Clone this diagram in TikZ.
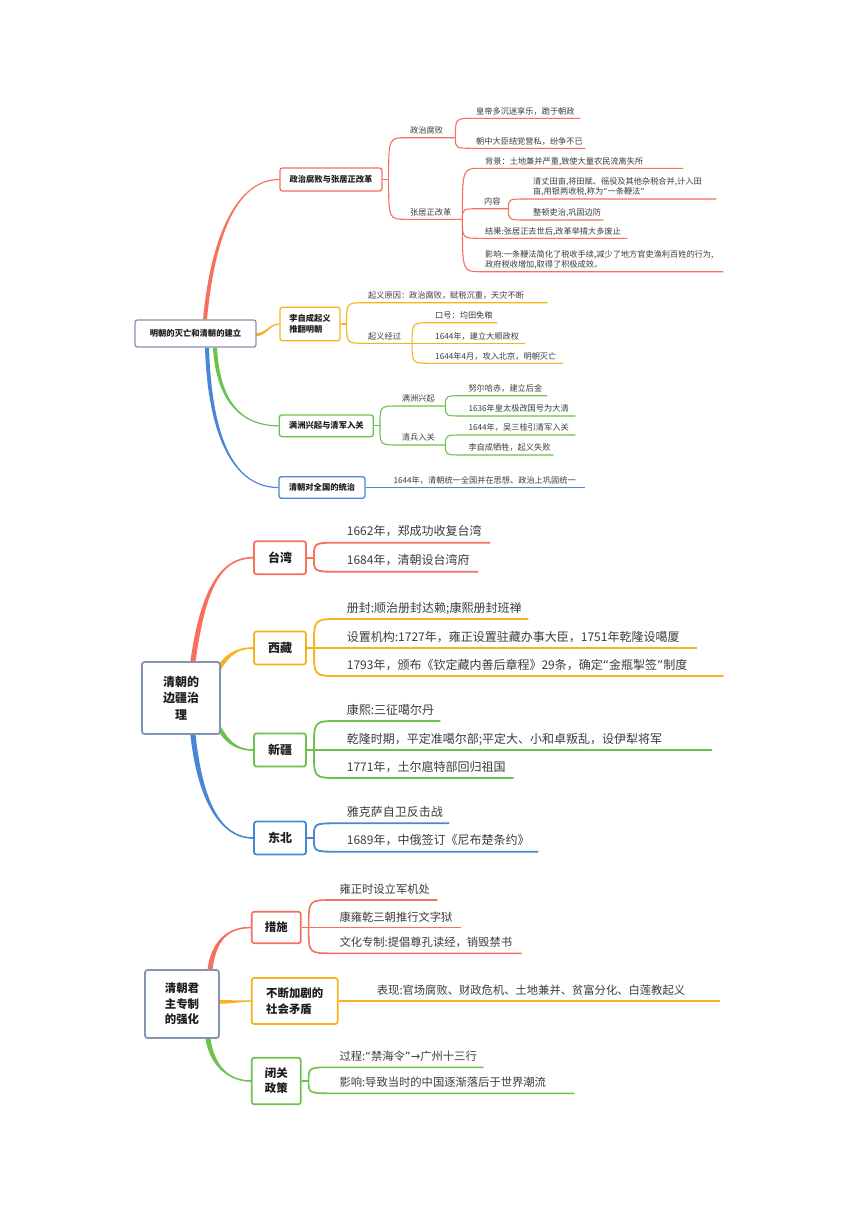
\documentclass[tikz,border=0pt]{standalone}
\usepackage{fontspec}
\setmainfont{Noto Sans CJK SC}
\newfontfamily\qf{DejaVu Sans}
\newcommand\qL{{\qf “}}
\newcommand\qR{{\qf ”}}
\newcommand\qA{{\qf →}}
\usetikzlibrary{calc}
\definecolor{cR}{HTML}{F7705E}
\definecolor{cO}{HTML}{F9B11C}
\definecolor{cG}{HTML}{6DC24B}
\definecolor{cB}{HTML}{4A86D6}
\definecolor{cRoot}{HTML}{8294AE}
\definecolor{txt}{HTML}{3C3C3C}
\definecolor{btxt}{HTML}{1E1E1E}
\pgfdeclarelayer{bgzero}
\pgfdeclarelayer{bgone}
\pgfsetlayers{bgzero,bgone,main}
% tapered connector: color, start, c1, c2, end, start offset, end offset
\newcommand\taper[7]{\fill[#1] ($(#2)+(#6)$) .. controls ($(#3)+(#6)$) and ($(#4)+(#7)$) .. ($(#5)+(#7)$) -- ($(#5)-(#7)$) .. controls ($(#4)-(#7)$) and ($(#3)-(#6)$) .. ($(#2)-(#6)$) -- cycle;}
% bracket branch: style, split point, leaf node, radius
\newcommand\br[4]{\draw[#1] let \p1=(#2), \p2=(#3.south west) in (\p1) .. controls (\x1,\y2) .. (\x1+#4,\y2) -- (#3.south east);}
\begin{document}
\begin{tikzpicture}[x=1pt,y=-1pt,
  bx/.style={draw=#1, fill=white, rounded corners=2.5pt, inner sep=0pt, text=btxt, align=center},
  f1b/.style={font=\fontsize{8.3}{11}\selectfont\bfseries, line width=1.3pt},
  f2b/.style={font=\fontsize{12}{16.7}\selectfont\bfseries, line width=1.8pt},
  f3b/.style={font=\fontsize{11.4}{15.3}\selectfont\bfseries, line width=1.7pt},
  lf/.style={anchor=south west, inner xsep=0pt, align=left, text=txt, execute at begin node=\strut, execute at end node=\strut},
  l1/.style={lf, inner ysep=0.8pt, font=\fontsize{8.2}{10.5}\selectfont},
  l2/.style={lf, inner ysep=2.3pt, font=\fontsize{12}{15}\selectfont},
  l3/.style={lf, inner ysep=2pt, font=\fontsize{11.3}{14}\selectfont},
  lw1/.style={line width=1.1pt},
  lw2/.style={line width=1.8pt},
  lw3/.style={line width=1.6pt}]
\useasboundingbox (0,0) rectangle (860,1216);
\begin{pgfonlayer}{bgzero}
\fill[white] (0,0) rectangle (860,1216);
\end{pgfonlayer}

%%%%%%%%%%%%%%%% Section 1
\node[bx=cRoot, f1b, minimum width=121pt, minimum height=27pt] (r1) at (195.5,333.5) {明朝的灭亡和清朝的建立};
\node[bx=cR, f1b, minimum width=102pt, minimum height=23pt] (b11) at (331,179.5) {政治腐败与张居正改革};
\node[bx=cO, f1b, minimum width=60pt, minimum height=33.4pt, align=left] (b12) at (310,324) {李自成起义\\推翻明朝};
\node[bx=cG, f1b, minimum width=94pt, minimum height=21.7pt] (b13) at (326.3,425.8) {满洲兴起与清军入关};
\node[bx=cB, f1b, minimum width=86pt, minimum height=21.6pt] (b14) at (322,487.5) {清朝对全国的统治};

\coordinate (t11) at ($(r1.north)+(9.5,0)$);
\coordinate (t12) at ($(r1.east)+(-3,1.5)$);
\coordinate (t13) at ($(r1.south)+(19.5,0)$);
\coordinate (t14) at ($(r1.south)+(11.5,0)$);
\begin{pgfonlayer}{bgone}
\taper{cR}{t11}{213,235}{237,179.5}{b11.west}{2,0}{0,0.6}
\taper{cO}{t12}{268,335}{268,324}{b12.west}{0,1.6}{0,0.6}
\taper{cG}{t13}{218,400}{240,425.8}{b13.west}{2,0}{0,-0.6}
\taper{cB}{t14}{210,440}{235,487.5}{b14.west}{2,0}{0,-0.6}
\end{pgfonlayer}

% branch 1
\coordinate (s11) at ($(b11.east)+(6,0)$);
\node[l1, text width=45pt] (L1) at (410,137.7) {政治腐败};
\node[l1, text width=52pt] (L2) at (410,219.3) {张居正改革};
\node[l1, text width=104pt] (L11) at (476,118.3) {皇帝多沉迷享乐，跪于朝政};
\node[l1, text width=109pt] (L12) at (476,148.3) {朝中大臣结党营私，纷争不已};
\node[l1, text width=198pt] (L21) at (485,168.3) {背景：土地兼并严重,致使大量农民流离失所};
\node[l1, text width=24pt] (L22) at (484,208.7) {内容};
\node[l1, text width=142pt] (L23) at (485,238.3) {结果:张居正去世后,改革举措大多废止};
\node[l1, text width=238pt] (L24) at (485,271.7) {影响:一条鞭法简化了税收手续,减少了地方官吏渔利百姓的行为,\\政府税收增加,取得了积极成效。};
\node[l1, text width=183pt] (L221) at (533,199) {清丈田亩,将田赋、徭役及其他杂税合并,计入田\\亩,用银两收税,称为\qL 一条鞭法\qR};
\node[l1, text width=70pt] (L222) at (533,220) {整顿吏治,巩固边防};
\draw[cR,lw1] (b11.east) -- (s11);
\br{cR,lw1}{s11}{L1}{18pt}
\br{cR,lw1}{s11}{L2}{18pt}
\br{cR,lw1}{L1.south east}{L11}{18pt}
\br{cR,lw1}{L1.south east}{L12}{18pt}
\br{cR,lw1}{L2.south east}{L21}{18pt}
\br{cR,lw1}{L2.south east}{L22}{18pt}
\br{cR,lw1}{L2.south east}{L23}{18pt}
\br{cR,lw1}{L2.south east}{L24}{18pt}
\br{cR,lw1}{L22.south east}{L221}{18pt}
\br{cR,lw1}{L22.south east}{L222}{18pt}

% branch 2
\coordinate (s12) at ($(b12.east)+(6,0)$);
\node[l1, text width=179pt] (M1) at (368,302.7) {起义原因：政治腐败，赋税沉重，天灾不断};
\node[l1, text width=43.7pt] (M2) at (368,343.3) {起义经过};
\node[l1, text width=62pt] (M21) at (435,322.7) {口号：均田免粮};
\node[l1, text width=90pt] (M22) at (435,343.3) {1644年，建立大顺政权};
\node[l1, text width=128pt] (M23) at (435,363.3) {1644年4月，攻入北京，明朝灭亡};
\draw[cO,lw1] (b12.east) -- (s12);
\br{cO,lw1}{s12}{M1}{18pt}
\br{cO,lw1}{s12}{M2}{18pt}
\br{cO,lw1}{M2.south east}{M21}{18pt}
\br{cO,lw1}{M2.south east}{M22}{18pt}
\br{cO,lw1}{M2.south east}{M23}{18pt}

% branch 3
\coordinate (s13) at ($(b13.east)+(6,0)$);
\node[l1, text width=43.3pt] (N1) at (401.7,406) {满洲兴起};
\node[l1, text width=43.3pt] (N2) at (401.7,445) {清兵入关};
\node[l1, text width=78.4pt] (N11) at (468.3,395.7) {努尔哈赤，建立后金};
\node[l1, text width=106.7pt] (N12) at (468.3,416) {1636年皇太极改国号为大清};
\node[l1, text width=106.7pt] (N21) at (468.3,435) {1644年，吴三桂引清军入关};
\node[l1, text width=85pt] (N22) at (468.3,455) {李自成牺牲，起义失败};
\draw[cG,lw1] (b13.east) -- (s13);
\br{cG,lw1}{s13}{N1}{18pt}
\br{cG,lw1}{s13}{N2}{18pt}
\br{cG,lw1}{N1.south east}{N11}{18pt}
\br{cG,lw1}{N1.south east}{N12}{18pt}
\br{cG,lw1}{N2.south east}{N21}{18pt}
\br{cG,lw1}{N2.south east}{N22}{18pt}

% branch 4
\node[l1, text width=191.7pt] (O1) at (393.3,487.5) {1644年，清朝统一全国并在思想、政治上巩固统一};
\br{cB,lw1}{b14.east}{O1}{18pt}

%%%%%%%%%%%%%%%% Section 2
\node[bx=cRoot, f2b, minimum width=78pt, minimum height=72pt] (r2) at (181,698) {清朝的\\边疆治\\理};
\node[bx=cR, f2b, minimum width=52pt, minimum height=33pt] (c1) at (280,557.7) {台湾};
\node[bx=cO, f2b, minimum width=52pt, minimum height=33pt] (c2) at (280,648) {西藏};
\node[bx=cG, f2b, minimum width=52pt, minimum height=33pt] (c3) at (280,750) {新疆};
\node[bx=cB, f2b, minimum width=52pt, minimum height=33pt] (c4) at (280,838) {东北};

\coordinate (t21) at ($(r2.north)+(12,0)$);
\coordinate (t22) at ($(r2.north east)+(-6,14)$);
\coordinate (t23) at ($(r2.south east)+(-6,-14)$);
\coordinate (t24) at ($(r2.south)+(12,0)$);
\begin{pgfonlayer}{bgone}
\taper{cR}{t21}{203,590}{220,557.7}{c1.west}{2.6,0}{0,0.8}
\taper{cO}{t22}{226,655}{236,648}{c2.west}{2.2,1.2}{0,0.8}
\taper{cG}{t23}{226,742}{236,750}{c3.west}{2.2,-1.2}{0,-0.8}
\taper{cB}{t24}{200,800}{220,838}{c4.west}{2.6,0}{0,-0.8}
\end{pgfonlayer}

\coordinate (s21) at ($(c1.east)+(7,0)$);
\coordinate (s22) at ($(c2.east)+(7,0)$);
\coordinate (s23) at ($(c3.east)+(7,0)$);
\coordinate (s24) at ($(c4.east)+(7,0)$);
\node[l2, text width=143.3pt] (P11) at (346.7,542.7) {1662年，郑成功收复台湾};
\node[l2, text width=131.3pt] (P12) at (346.7,571.7) {1684年，清朝设台湾府};
\node[l2, text width=181.3pt] (P21) at (346.7,619) {册封:顺治册封达赖;康熙册封班禅};
\node[l2, text width=350.3pt] (P22) at (346.7,648) {设置机构:1727年，雍正设置驻藏办事大臣，1751年乾隆设噶厦};
\node[l2, text width=376.6pt] (P23) at (346.7,676) {1793年，颁布《钦定藏内善后章程》29条，确定\qL 金瓶掣签\qR 制度};
\node[l2, text width=93.3pt] (P31) at (346.7,721) {康熙:三征噶尔丹};
\node[l2, text width=365.3pt] (P32) at (346.7,750) {乾隆时期，平定准噶尔部;平定大、小和卓叛乱，设伊犁将军};
\node[l2, text width=166.6pt] (P33) at (346.7,778) {1771年，土尔扈特部回归祖国};
\node[l2, text width=102.3pt] (P41) at (346.7,823.3) {雅克萨自卫反击战};
\node[l2, text width=191.3pt] (P42) at (346.7,851.7) {1689年，中俄签订《尼布楚条约》};
\draw[cR,lw2] (c1.east) -- (s21);
\draw[cO,lw2] (c2.east) -- (s22);
\draw[cG,lw2] (c3.east) -- (s23);
\draw[cB,lw2] (c4.east) -- (s24);
\br{cR,lw2}{s21}{P11}{24pt}
\br{cR,lw2}{s21}{P12}{24pt}
\br{cO,lw2}{s22}{P21}{24pt}
\br{cO,lw2}{s22}{P22}{24pt}
\br{cO,lw2}{s22}{P23}{24pt}
\br{cG,lw2}{s23}{P31}{24pt}
\br{cG,lw2}{s23}{P32}{24pt}
\br{cG,lw2}{s23}{P33}{24pt}
\br{cB,lw2}{s24}{P41}{24pt}
\br{cB,lw2}{s24}{P42}{24pt}

%%%%%%%%%%%%%%%% Section 3
\node[bx=cRoot, f3b, minimum width=74pt, minimum height=68pt] (r3) at (182,1004) {清朝君\\主专制\\的强化};
\node[bx=cR, f3b, minimum width=49pt, minimum height=31.6pt] (d1) at (276.3,927.5) {措施};
\node[bx=cO, f3b, minimum width=86pt, minimum height=46pt, align=left] (d2) at (294.7,1001) {不断加剧的\\社会矛盾};
\node[bx=cG, f3b, minimum width=49pt, minimum height=46.6pt] (d3) at (276.3,1081) {闭关\\政策};

\coordinate (t31) at ($(r3.north)+(28,0)$);
\coordinate (t32) at ($(r3.east)+(-3,-2)$);
\coordinate (t33) at ($(r3.south)+(26,0)$);
\begin{pgfonlayer}{bgone}
\taper{cR}{t31}{214,940}{228,927.5}{d1.west}{2.5,0}{0,0.8}
\taper{cO}{t32}{232,1002}{240,1001}{d2.west}{0,1.8}{0,0.7}
\taper{cG}{t33}{212,1065}{228,1081}{d3.west}{2.5,0}{0,-0.8}
\end{pgfonlayer}

\coordinate (s31) at ($(d1.east)+(7,0)$);
\coordinate (s33) at ($(d3.east)+(7,0)$);
\node[l3, text width=97.7pt] (Q11) at (339.3,900) {雍正时设立军机处};
\node[l3, text width=121.7pt] (Q12) at (339.3,927.5) {康雍乾三朝推行文字狱};
\node[l3, text width=182pt] (Q13) at (339.3,953.3) {文化专制:提倡尊孔读经，销毁禁书};
\node[l3, text width=343.3pt] (Q2) at (376.7,1001) {表现:官场腐败、财政危机、土地兼并、贫富分化、白莲教起义};
\node[l3, text width=143.7pt] (Q31) at (339.3,1067.3) {过程:\qL 禁海令\qR\qA 广州十三行};
\node[l3, text width=234.7pt] (Q32) at (339.3,1093.3) {影响:导致当时的中国逐渐落后于世界潮流};
\draw[cR,lw3] (d1.east) -- (s31);
\draw[cG,lw3] (d3.east) -- (s33);
\br{cR,lw3}{s31}{Q11}{24pt}
\br{cR,lw3}{s31}{Q12}{24pt}
\br{cR,lw3}{s31}{Q13}{24pt}
\br{cO,lw3}{d2.east}{Q2}{24pt}
\br{cG,lw3}{s33}{Q31}{24pt}
\br{cG,lw3}{s33}{Q32}{24pt}
\end{tikzpicture}
\end{document}
